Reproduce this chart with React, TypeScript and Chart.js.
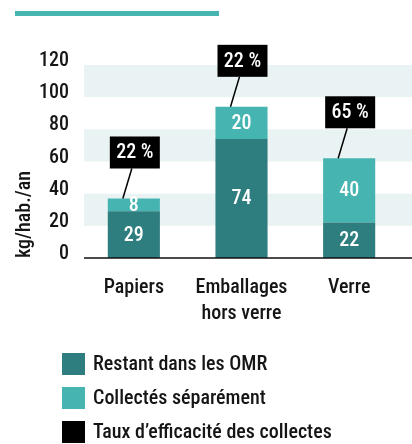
import React, { useEffect, useRef } from 'react';
import { Chart, registerables } from 'chart.js';

Chart.register(...registerables);

const CATEGORIES: string[][] = [['Papiers'], ['Emballages', 'hors verre'], ['Verre']];
const RESTANT = [29, 74, 22];
const COLLECTES = [8, 20, 40];
const TAUX = ['22 %', '22 %', '65 %'];
const SERIES_NAMES = ['Restant dans les OMR', 'Collectés séparément', 'Taux d’efficacité des collectes'];
const Y_TITLE = 'kg/hab./an';
const Y_MIN = 0;
const Y_MAX = 120;
const Y_STEP = 20;

const DARK = '#2e7d7f';
const LIGHT = '#46b5b1';
const BLACK = '#000000';
const BAND = '#eaf3f3';
const TEXT = '#151515';
const FONT = "'Roboto Condensed', 'DejaVu Sans Condensed', sans-serif";
const WEIGHT = 500;

const decorPlugin = {
  id: 'decor',
  beforeDatasetsDraw(chart: any) {
    const { ctx, scales } = chart;
    const y = scales.y;
    const left = 84;
    const right = chart.width;
    ctx.save();
    ctx.fillStyle = LIGHT;
    ctx.fillRect(15, 11, 204, 5);
    ctx.fillStyle = BAND;
    for (let v = Y_MIN + Y_STEP; v < Y_MAX; v += 2 * Y_STEP) {
      const top = y.getPixelForValue(v + Y_STEP);
      const bot = y.getPixelForValue(v);
      ctx.fillRect(left, top, right - left, bot - top);
    }
    ctx.restore();
  },
  afterDatasetsDraw(chart: any) {
    const { ctx, scales } = chart;
    const y = scales.y;
    const font = `${WEIGHT} 20px ${FONT}`;
    ctx.save();
    ctx.strokeStyle = '#111';
    ctx.lineWidth = 1.5;
    ctx.beginPath();
    const y0 = y.getPixelForValue(0);
    ctx.moveTo(84, y0);
    ctx.lineTo(chart.width, y0);
    ctx.stroke();

    ctx.fillStyle = '#ffffff';
    ctx.font = font;
    ctx.textAlign = 'center';
    ctx.textBaseline = 'middle';
    chart.data.datasets.forEach((ds: any, di: number) => {
      const meta = chart.getDatasetMeta(di);
      meta.data.forEach((bar: any, i: number) => {
        const cy = (bar.y + bar.base) / 2;
        ctx.fillText(String(ds.data[i]), bar.x, cy + 1);
      });
    });

    const topMeta = chart.getDatasetMeta(1);
    topMeta.data.forEach((bar: any, i: number) => {
      const boxW = 50;
      const boxH = 32;
      const boxBottom = bar.y - 30;
      const cx = bar.x + 1;
      ctx.strokeStyle = BLACK;
      ctx.lineWidth = 1.5;
      ctx.beginPath();
      ctx.moveTo(bar.x - 2, boxBottom);
      ctx.lineTo(bar.x - 11, bar.y);
      ctx.stroke();
      ctx.fillStyle = BLACK;
      ctx.fillRect(cx - boxW / 2, boxBottom - boxH, boxW, boxH);
      ctx.fillStyle = '#ffffff';
      ctx.font = font;
      ctx.textAlign = 'center';
      ctx.textBaseline = 'middle';
      ctx.fillText(TAUX[i], cx, boxBottom - boxH / 2 + 1);
    });

    ctx.save();
    ctx.translate(25, y0);
    ctx.rotate(-Math.PI / 2);
    ctx.fillStyle = TEXT;
    ctx.font = font;
    ctx.textAlign = 'left';
    ctx.textBaseline = 'middle';
    ctx.fillText(Y_TITLE, 0, 0);
    ctx.restore();

    const colors = [DARK, LIGHT, BLACK];
    SERIES_NAMES.forEach((name, i) => {
      const cy = 364 + i * 34;
      ctx.fillStyle = colors[i];
      ctx.fillRect(62, cy - 11, 23, 22);
      ctx.fillStyle = TEXT;
      ctx.font = font;
      ctx.textAlign = 'left';
      ctx.textBaseline = 'middle';
      ctx.fillText(name, 93, cy + 1);
    });
    ctx.restore();
  },
};

export default function App() {
  const ref = useRef<HTMLCanvasElement | null>(null);

  useEffect(() => {
    if (!ref.current) return;
    Chart.defaults.font.family = FONT;
    const chart = new Chart(ref.current, {
      type: 'bar',
      data: {
        labels: CATEGORIES,
        datasets: [
          {
            label: SERIES_NAMES[0],
            data: RESTANT,
            backgroundColor: DARK,
            borderWidth: 0,
            barPercentage: 0.484,
            categoryPercentage: 1,
          },
          {
            label: SERIES_NAMES[1],
            data: COLLECTES,
            backgroundColor: LIGHT,
            borderWidth: 0,
            barPercentage: 0.484,
            categoryPercentage: 1,
          },
        ],
      },
      options: {
        animation: false,
        responsive: false,
        maintainAspectRatio: false,
        devicePixelRatio: 1,
        layout: { padding: { top: 65, right: 9, bottom: 106, left: 0 } },
        plugins: {
          legend: { display: false },
          tooltip: { enabled: false },
        },
        scales: {
          x: {
            stacked: true,
            grid: { display: false, drawTicks: false },
            border: { display: false },
            ticks: {
              color: TEXT,
              font: { size: 20, family: FONT, weight: WEIGHT, lineHeight: 1.3 },
              padding: 17,
              maxRotation: 0,
              autoSkip: false,
            },
            afterFit: (scale: any) => {
              scale.height = 80;
            },
          },
          y: {
            stacked: true,
            min: Y_MIN,
            max: Y_MAX,
            grid: { display: false, drawTicks: false },
            border: { display: false },
            ticks: {
              stepSize: Y_STEP,
              color: TEXT,
              font: { size: 20, family: FONT, weight: WEIGHT },
              padding: 11,
              labelOffset: -4,
            },
            afterFit: (scale: any) => {
              scale.width = 80;
            },
          },
        },
      },
      plugins: [decorPlugin],
    });
    return () => chart.destroy();
  }, []);

  return (
    <div style={{ position: 'fixed', left: 0, top: 0, width: 412, height: 444, background: '#fff' }}>
      <canvas ref={ref} width={412} height={444} style={{ width: 412, height: 444, display: 'block' }} />
    </div>
  );
}
